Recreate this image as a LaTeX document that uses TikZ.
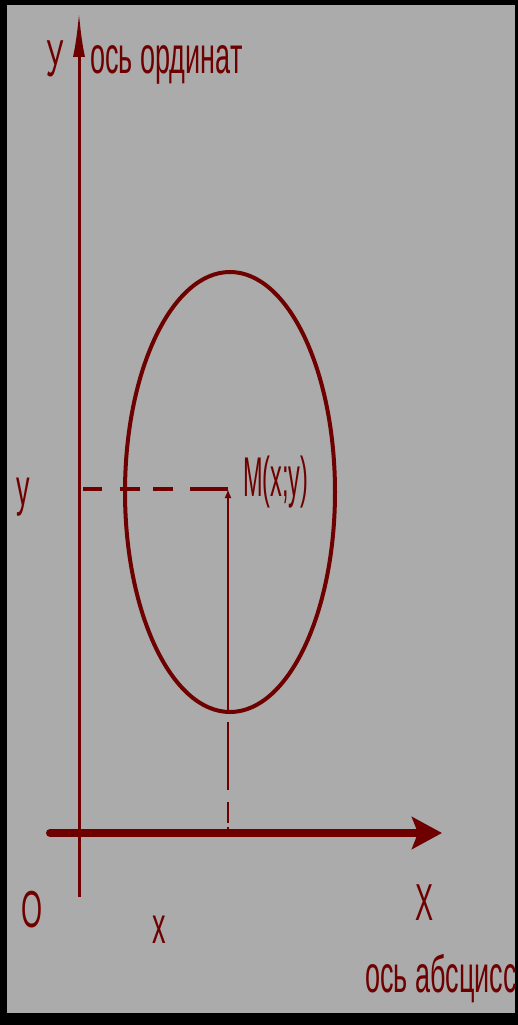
\documentclass[tikz,border=0pt]{standalone}
\usepackage{fontspec}
\setmainfont{Liberation Sans}
\newfontfamily\narrowfont[FakeStretch=0.52]{Liberation Sans}
\newfontfamily\narrowerfont[FakeStretch=0.42]{Liberation Sans}
\usetikzlibrary{arrows.meta}
\definecolor{bg}{HTML}{ABABAB}
\definecolor{ink}{HTML}{6E0000}
\begin{document}
\begin{tikzpicture}[x=1pt,y=-1pt,
  lbl/.style={text=ink, font=\narrowfont\fontsize{52}{52}\selectfont, inner sep=0pt, anchor=base},
  axisline/.style={draw=ink, line width=3pt},
  ellipsestyle/.style={draw=ink, line width=4pt}]
\useasboundingbox (0,0) rectangle (518,1025);
\fill[black] (0,0) rectangle (518,1025);
\fill[bg] (7,5) rectangle (515,1013);
% coordinates
\coordinate (Ytop) at (79,12);
\coordinate (Ybot) at (79,897);
\coordinate (Xl) at (50,833);
\coordinate (Xr) at (442,833);
\coordinate (M) at (228,489);
\coordinate (My) at (79,489);
\coordinate (Ebot) at (228,712);
\coordinate (Mx) at (228,833);
% ellipse
\draw[ellipsestyle] (230,492) ellipse [x radius=105, y radius=220];
% axes
\draw[axisline, -{Latex[length=45pt,width=12pt]}] (Ybot) -- (Ytop);
\draw[draw=ink, line width=8pt, line cap=round, -{Stealth[length=30pt,width=32pt,inset=6pt]}] (Xl) -- (Xr);
% projections
\draw[draw=ink, line width=4pt, dash pattern=on 0pt off 4pt on 19pt off 18pt on 20pt off 13pt on 20pt off 17pt on 40pt off 0pt] (My) -- (M);
\draw[draw=ink, line width=2pt, -{Latex[length=9pt,width=7pt]}] (Ebot) -- (M);
\draw[draw=ink, line width=1.8pt, dash pattern=on 0pt off 10pt on 68pt off 12pt on 21pt off 4pt on 30pt off 0pt] (Ebot) -- (Mx);
% labels
\node[lbl] (ylab) at (55,77) {У};
\node[lbl, anchor=base west] (yax) at (90,74) {ось ординат};
\node[lbl] (ycoord) at (23,505) {y};
\node[lbl, anchor=base west, font=\narrowerfont\fontsize{56}{56}\selectfont] (mlab) at (243,496) {M(x;y)};
\node[lbl] (olab) at (32,927) {O};
\node[lbl] (xcoord) at (159,943) {x};
\node[lbl] (xlab) at (425,920) {X};
\node[lbl, anchor=base east] (xax) at (517,992) {ось абсцисс};
\end{tikzpicture}
\end{document}
